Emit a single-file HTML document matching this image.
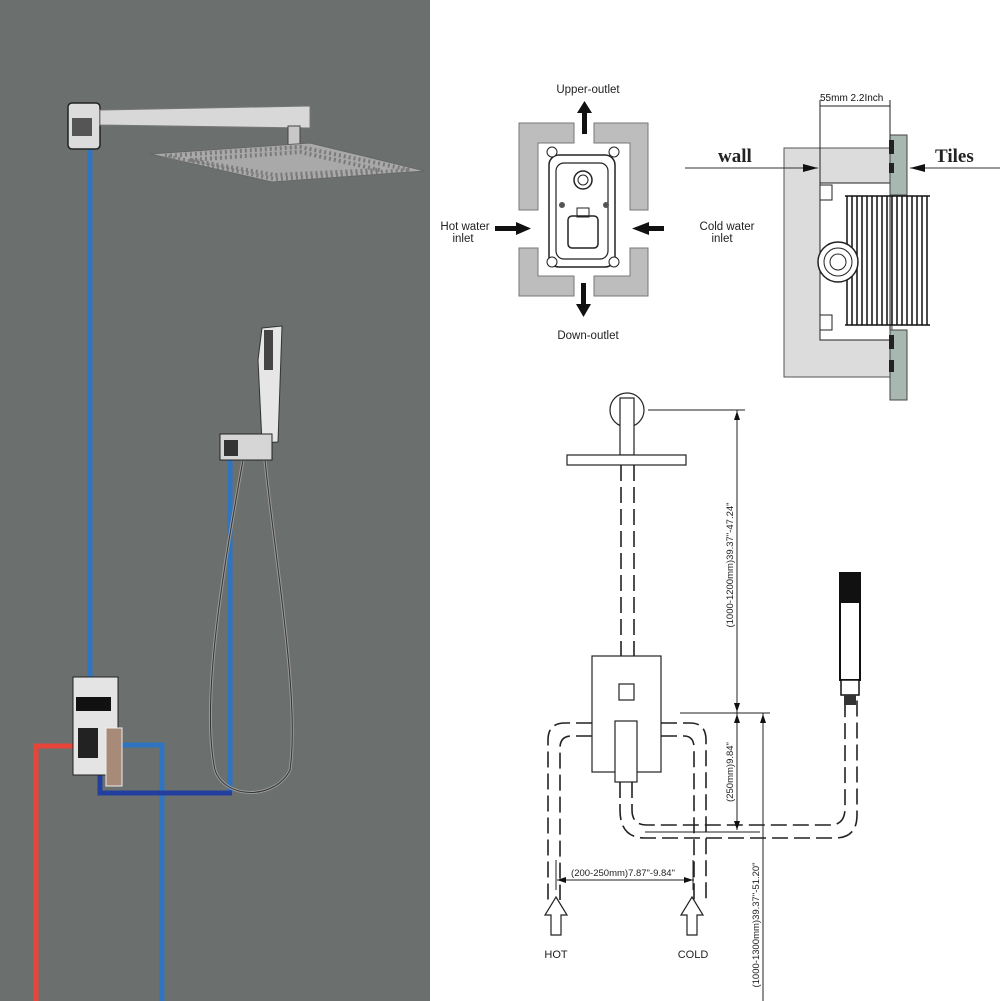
<!DOCTYPE html>
<html><head><meta charset="utf-8"><style>
html,body{margin:0;padding:0;background:#fff;}
svg{display:block;font-family:"Liberation Sans",sans-serif;}
</style></head><body>
<svg width="1001" height="1001" viewBox="0 0 1001 1001" xmlns="http://www.w3.org/2000/svg">
<rect x="0" y="0" width="1001" height="1001" fill="#fff"/>
<rect x="0" y="0" width="430" height="1001" fill="#6b706f"/>

<g fill="none" stroke-linejoin="miter">
<path d="M90 148 V680" stroke="#2f74c0" stroke-width="5"/>
<path d="M230 458 V792" stroke="#2f74c0" stroke-width="5"/>
<path d="M75 746 H36 V1001" stroke="#e8453a" stroke-width="5"/>
<path d="M120 745 H162 V1001" stroke="#2f74c0" stroke-width="5"/>
<path d="M100 770 V793 H232" stroke="#223fa0" stroke-width="5"/>
<path d="M243 460 C 225 560, 200 700, 215 770 C 225 800, 275 800, 290 770 C 300 700, 275 560, 265 460" stroke="#9a9a9a" stroke-width="3"/>
<path d="M243 460 C 225 560, 200 700, 215 770 C 225 800, 275 800, 290 770 C 300 700, 275 560, 265 460" stroke="#333" stroke-width="1"/>
</g>
<rect x="68" y="103" width="32" height="46" rx="4" fill="#dcdcdc" stroke="#222" stroke-width="1.5"/>
<rect x="72" y="118" width="20" height="18" fill="#555"/>
<path d="M100 110 L310 106 L310 128 L100 125 Z" fill="#d8d8d8" stroke="#777" stroke-width="1"/>
<rect x="288" y="126" width="12" height="20" fill="#c8c8c8" stroke="#444"/>
<path d="M150 154 L310 143 L425 171 L272 182 Z" fill="#a9a9a9" stroke="#666" stroke-width="1"/>
<path d="M165 156 L300 147 L410 170 L275 179 Z" fill="none" stroke="#7a7a7a" stroke-width="4" stroke-dasharray="2 3"/>
<path d="M190 160 L300 152 L380 170 L275 175 Z" fill="none" stroke="#7a7a7a" stroke-width="4" stroke-dasharray="2 3"/>
<path d="M262 328 L282 326 L278 442 L262 443 L258 360 Z" fill="#e6e6e6" stroke="#333" stroke-width="1"/>
<rect x="264" y="330" width="9" height="40" fill="#444"/>
<rect x="220" y="434" width="52" height="26" fill="#d6d6d6" stroke="#222"/>
<rect x="224" y="440" width="14" height="16" fill="#333"/>
<rect x="73" y="677" width="45" height="98" fill="#e4e4e4" stroke="#222" stroke-width="1"/>
<rect x="76" y="697" width="35" height="14" fill="#111"/>
<rect x="78" y="728" width="20" height="30" fill="#222"/>
<rect x="106" y="728" width="16" height="58" fill="#a88a78" stroke="#eee" stroke-width="1"/>

<g fill="#bdbdbd" stroke="#777" stroke-width="1">
<path d="M519 123 H574 V143 H538 V210 H519 Z"/>
<path d="M648 123 H594 V143 H630 V210 H648 Z"/>
<path d="M519 296 H574 V276 H538 V248 H519 Z"/>
<path d="M648 296 H594 V276 H630 V248 H648 Z"/>
</g>
<rect x="549" y="155" width="66" height="112" rx="10" fill="#fff" stroke="#222" stroke-width="1.5"/>
<rect x="556" y="163" width="52" height="96" rx="8" fill="none" stroke="#222" stroke-width="1.2"/>
<circle cx="583" cy="180" r="9" fill="none" stroke="#222" stroke-width="1.5"/>
<circle cx="583" cy="180" r="5" fill="none" stroke="#222" stroke-width="1"/>
<rect x="568" y="216" width="30" height="32" rx="4" fill="none" stroke="#222" stroke-width="1.5"/>
<rect x="577" y="208" width="12" height="9" fill="none" stroke="#222"/>
<circle cx="562" cy="205" r="3" fill="#555"/><circle cx="606" cy="205" r="3" fill="#555"/>
<g fill="#fff" stroke="#222"><circle cx="552" cy="152" r="5"/><circle cx="614" cy="152" r="5"/><circle cx="552" cy="262" r="5"/><circle cx="614" cy="262" r="5"/></g>
<g fill="#111">
<rect x="582" y="112" width="5" height="22"/><path d="M577 113 L584.5 101 L592 113 Z"/>
<rect x="581" y="283" width="5" height="22"/><path d="M576 304 L583.5 317 L591 304 Z"/>
<rect x="495" y="226" width="22" height="5"/><path d="M516 222 L531 228.5 L516 235 Z"/>
<rect x="648" y="226" width="16" height="5"/><path d="M649 222 L632 228.5 L649 235 Z"/>
</g>
<g font-size="11.5" fill="#222" text-anchor="middle">
<text x="588" y="93">Upper-outlet</text>
<text x="588" y="339">Down-outlet</text>
<text x="465" y="230">Hot water</text><text x="463" y="242">inlet</text>
<text x="727" y="230">Cold water</text><text x="722" y="242">inlet</text>
</g>

<rect x="784" y="148" width="108" height="229" fill="#dcdcdc" stroke="#555" stroke-width="1"/>
<rect x="820" y="183" width="70" height="157" fill="#fff" stroke="#222" stroke-width="1"/>
<rect x="820" y="185" width="12" height="15" fill="#fff" stroke="#222"/>
<rect x="820" y="315" width="12" height="15" fill="#fff" stroke="#222"/>
<g stroke="#111" stroke-width="1.5">
<line x1="847" y1="196" x2="847" y2="325"/><line x1="852" y1="196" x2="852" y2="325"/><line x1="857" y1="196" x2="857" y2="325"/><line x1="862" y1="196" x2="862" y2="325"/><line x1="867" y1="196" x2="867" y2="325"/><line x1="872" y1="196" x2="872" y2="325"/><line x1="877" y1="196" x2="877" y2="325"/><line x1="882" y1="196" x2="882" y2="325"/><line x1="887" y1="196" x2="887" y2="325"/><line x1="892" y1="196" x2="892" y2="325"/><line x1="897" y1="196" x2="897" y2="325"/><line x1="902" y1="196" x2="902" y2="325"/><line x1="907" y1="196" x2="907" y2="325"/><line x1="912" y1="196" x2="912" y2="325"/><line x1="917" y1="196" x2="917" y2="325"/><line x1="922" y1="196" x2="922" y2="325"/><line x1="927" y1="196" x2="927" y2="325"/>
<line x1="845" y1="196" x2="930" y2="196"/><line x1="845" y1="325" x2="930" y2="325"/>
</g>
<circle cx="838" cy="262" r="20" fill="#fff" stroke="#222" stroke-width="1.5"/>
<circle cx="838" cy="262" r="14" fill="none" stroke="#222"/>
<circle cx="838" cy="262" r="8" fill="none" stroke="#222"/>
<rect x="890" y="135" width="17" height="60" fill="#a8b8b0" stroke="#444"/>
<rect x="890" y="330" width="17" height="70" fill="#a8b8b0" stroke="#444"/>
<rect x="889" y="140" width="5" height="14" fill="#222"/><rect x="889" y="163" width="5" height="10" fill="#222"/>
<rect x="889" y="335" width="5" height="14" fill="#222"/><rect x="889" y="360" width="5" height="12" fill="#222"/>
<line x1="820" y1="100" x2="820" y2="183" stroke="#222"/><line x1="890" y1="100" x2="890" y2="140" stroke="#222"/>
<line x1="820" y1="106" x2="890" y2="106" stroke="#222"/>
<text x="820" y="101" font-size="10" fill="#111">55mm 2.2Inch</text>
<text x="718" y="162" font-size="19" font-weight="bold" font-family="Liberation Serif, serif" fill="#222">wall</text>
<text x="935" y="162" font-size="19" font-weight="bold" font-family="Liberation Serif, serif" fill="#222">Tiles</text>
<line x1="685" y1="168" x2="818" y2="168" stroke="#333"/><path d="M818 168 L803 164 L803 172 Z" fill="#111"/>
<line x1="910" y1="168" x2="1000" y2="168" stroke="#333"/><path d="M910 168 L925 164 L925 172 Z" fill="#111"/>

<g fill="#fff" stroke="#222" stroke-width="1.2">
<circle cx="627" cy="410" r="17"/>
<rect x="620" y="398" width="14" height="57"/>
<rect x="567" y="455" width="119" height="10"/>
<rect x="592" y="656" width="69" height="116"/>
<rect x="619" y="684" width="15" height="16"/>
</g>
<g fill="none" stroke="#222" stroke-width="1.6" stroke-dasharray="16 6">
<line x1="621" y1="465" x2="621" y2="656"/><line x1="634" y1="465" x2="634" y2="656"/>
<path d="M592 723 H565 Q548 723 548 740 V900"/>
<path d="M592 736 H572 Q560 736 560 748 V900"/>
<path d="M661 723 H690 Q706 723 706 740 V900"/>
<path d="M661 736 H684 Q694 736 694 748 V900"/>
<path d="M620 782 V810 Q620 838 645 838 H835 Q857 838 857 815 V700"/>
<path d="M632 782 V810 Q632 825 647 825 H830 Q845 825 845 808 V700"/>
</g>
<rect x="615" y="721" width="22" height="61" fill="#fff" stroke="#222" stroke-width="1.2"/>
<rect x="840" y="573" width="20" height="107" fill="#fff" stroke="#111" stroke-width="2"/>
<rect x="840" y="573" width="20" height="30" fill="#111"/>
<rect x="841" y="680" width="18" height="15" fill="#fff" stroke="#111" stroke-width="1.5"/>
<rect x="844" y="695" width="12" height="10" fill="#333"/>
<g stroke="#222" stroke-width="1" fill="none">
<line x1="648" y1="410" x2="745" y2="410"/>
<line x1="737" y1="410" x2="737" y2="830"/>
<line x1="680" y1="713" x2="770" y2="713"/>
<line x1="763" y1="713" x2="763" y2="1001"/>
<line x1="645" y1="832" x2="760" y2="832"/>
<line x1="557" y1="880" x2="694" y2="880"/>
<line x1="556" y1="860" x2="556" y2="890"/><line x1="693" y1="860" x2="693" y2="890"/>
</g>
<g fill="#111">
<path d="M737 411 L734 420 L740 420 Z"/><path d="M737 712 L734 703 L740 703 Z"/>
<path d="M737 714 L734 723 L740 723 Z"/><path d="M737 830 L734 821 L740 821 Z"/>
<path d="M763 714 L760 723 L766 723 Z"/>
<path d="M557 880 L566 877 L566 883 Z"/><path d="M693 880 L684 877 L684 883 Z"/>
</g>
<g font-size="9.5" fill="#222" text-anchor="middle">
<text x="623" y="876">(200-250mm)7.87"-9.84"</text>
<text transform="translate(733,565) rotate(-90)">(1000-1200mm)39.37"-47.24"</text>
<text transform="translate(733,772) rotate(-90)">(250mm)9.84"</text>
<text transform="translate(759,925) rotate(-90)">(1000-1300mm)39.37"-51.20"</text>
</g>
<g fill="#fff" stroke="#222" stroke-width="1.2">
<path d="M556 897 L567 915 L561 915 L561 935 L551 935 L551 915 L545 915 Z"/>
<path d="M692 897 L703 915 L697 915 L697 935 L687 935 L687 915 L681 915 Z"/>
</g>
<g font-size="11" fill="#222" text-anchor="middle">
<text x="556" y="958">HOT</text><text x="693" y="958">COLD</text>
</g>
</svg>
</body></html>
